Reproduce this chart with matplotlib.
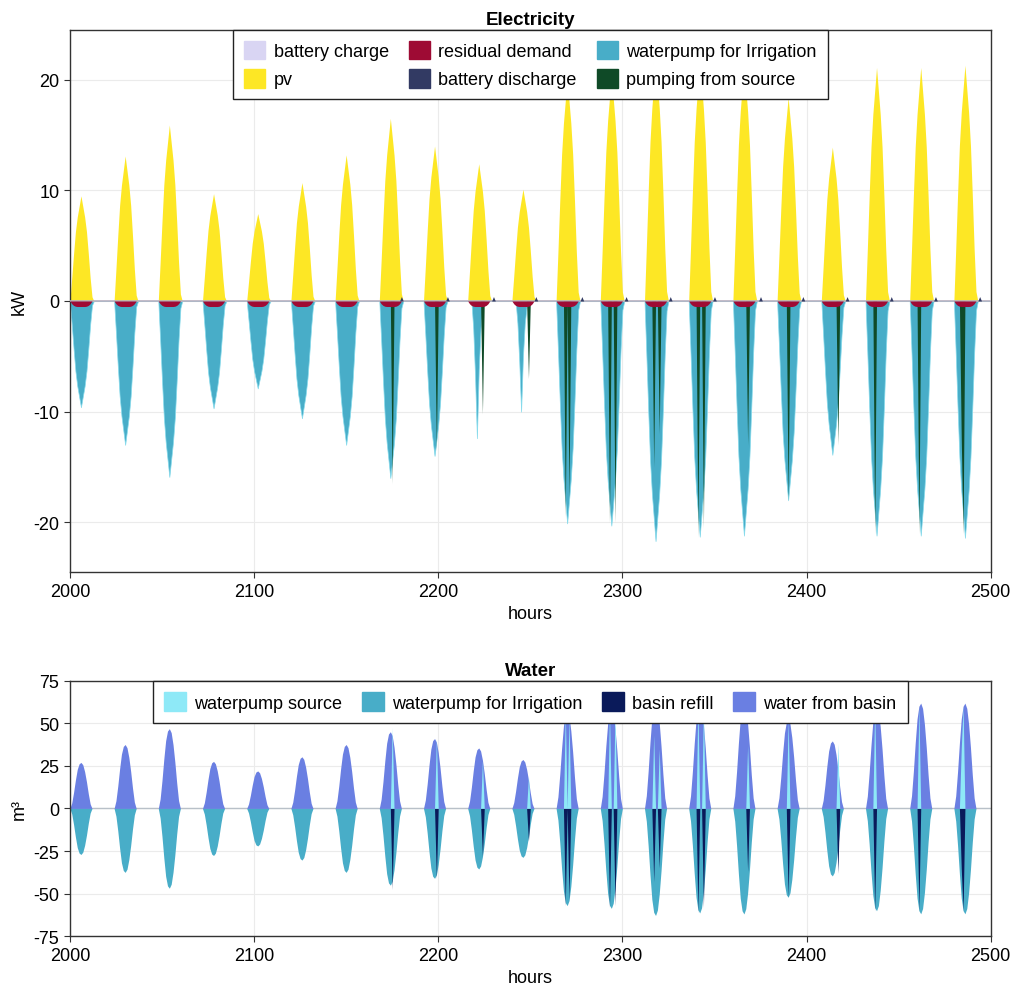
import numpy as np
import matplotlib
matplotlib.use("Agg")
import matplotlib.pyplot as plt
from matplotlib.patches import Patch

plt.rcParams['font.family'] = ['Liberation Sans', 'DejaVu Sans']
plt.rcParams['axes.unicode_minus'] = False

# ---- data ----
hours = np.arange(2000, 2501)
day_start = list(range(2000, 2481, 24))

# hourly shape of one day (offset 0..13 from day start)
sun_profile = [0, 0.22, 0.45, 0.66, 0.8, 0.9, 1.0, 0.9, 0.8, 0.66, 0.45, 0.22, 0.04, 0]
narrow_profile = [0, 0, 0, 0.2, 0.55, 1.0, 0.5, 0.2, 0.05, 0, 0, 0, 0, 0]
water_profile = [0, 0.12, 0.35, 0.62, 0.85, 0.97, 1.0, 0.95, 0.8, 0.58, 0.32, 0.1, 0, 0]
resid_profile = [0, 0.5, 0.8, 0.95, 1, 1, 1, 1, 1, 0.95, 0.8, 0.5, 0, 0]

# electricity (kW) daily peaks
pv_peak = [9.5, 13.1, 15.9, 9.7, 7.9, 10.7, 13.2, 16.5, 14.0, 12.4, 10.1,
           20.1, 20.4, 21.8, 21.7, 21.4, 18.4, 13.9, 21.1, 21.1, 21.3]
irr_peak = [9.6, 13.0, 15.9, 9.7, 7.9, 10.6, 13.0, 16.0, 14.0, 12.4, 10.0,
            20.1, 20.3, 21.7, 21.3, 21.2, 18.0, 13.9, 21.2, 21.2, 21.4]
irr_shape = ['full'] * 9 + ['narrow', 'narrow'] + ['full'] * 10
resid_peak = [0.5] * 21

# pumping from source spikes (hour, kW) and matching water (m3)
src_hour = [2175, 2199, 2224, 2249, 2269, 2271, 2293, 2296, 2317, 2320,
            2341, 2344, 2368, 2390, 2417, 2437, 2461, 2484, 2485]
src_kw = [16.5, 13.5, 10.2, 7.0, 19.5, 18.0, 20.0, 20.0, 15.0, 12.0,
          21.3, 20.5, 13.0, 18.1, 13.0, 21.0, 21.0, 12.4, 21.0]
src_m3 = [47.5, 41.0, 28.0, 19.0, 57.0, 54.0, 58.0, 57.0, 43.0, 35.0,
          61.0, 58.0, 37.0, 52.0, 38.0, 60.0, 60.0, 35.0, 60.0]

# battery discharge small blips (hour, kW)
bat_hour = [2180, 2205, 2230, 2253, 2278, 2302, 2326, 2350, 2375, 2398, 2422, 2446, 2470, 2494]
bat_kw = [0.4] * 14

# water (m3) daily peaks
w_peak = [27.0, 37.5, 46.8, 27.6, 22.0, 30.3, 37.5, 45.0, 41.0, 35.5, 28.7,
          57.0, 58.6, 62.8, 61.3, 61.9, 52.1, 39.6, 60.0, 61.8, 61.8]


def daily_series(peaks, profiles):
    out = np.zeros(len(hours))
    for start, peak, prof in zip(day_start, peaks, profiles):
        for i, v in enumerate(prof):
            idx = start + i - hours[0]
            if 0 <= idx < len(out):
                out[idx] += v * peak
    return out


def spike_series(hrs, vals):
    out = np.zeros(len(hours))
    for h, v in zip(hrs, vals):
        out[h - hours[0]] = v
    return out


pv = daily_series(pv_peak, [sun_profile] * 21)
irr = daily_series(irr_peak, [sun_profile if s == 'full' else narrow_profile for s in irr_shape])
resid = daily_series(resid_peak, [resid_profile] * 21)
src = spike_series(src_hour, src_kw)
bat = spike_series(bat_hour, bat_kw)
w_basin = daily_series(w_peak, [water_profile] * 21)
w_src = spike_series(src_hour, src_m3)

# colours
c_batc = '#d9d5f3'
c_pv = '#fde725'
c_res = '#9e0b34'
c_batd = '#323a63'
c_irr = '#48adc8'
c_src = '#0f4a27'
c_wsrc = '#8ee9f7'
c_refill = '#0a1a5a'
c_basin = '#6a7fe2'

fig = plt.figure(figsize=(10.13, 9.95), dpi=100)
ax1 = fig.add_axes([0.069, 0.424, 0.909, 0.545])
ax2 = fig.add_axes([0.069, 0.058, 0.909, 0.257])

leg_kw = dict(loc='upper center', bbox_to_anchor=(0.5, 1.0), borderaxespad=0,
              fancybox=False, fontsize=13, handlelength=1.2, handleheight=1.2,
              columnspacing=1.1, handletextpad=0.45)

# ---- electricity ----
ax1.fill_between(hours, 0, pv, color=c_pv, lw=0, zorder=2)
ax1.fill_between(hours, 0, -irr, facecolor=c_irr, edgecolor='#86dbec', lw=0.5, zorder=2)
ax1.fill_between(hours, 0, -src, color=c_src, lw=0, zorder=3)
ax1.fill_between(hours, 0, -resid, color=c_res, lw=0, zorder=4)
ax1.fill_between(hours, 0, bat, color=c_batd, lw=0, zorder=4)
ax1.axhline(0, color='#b8b0bf', lw=1.2, zorder=3.5)

ax1.set_xlim(2000, 2500)
ax1.set_ylim(-24.5, 24.5)
ax1.set_yticks([-20, -10, 0, 10, 20])
ax1.set_title('Electricity', fontsize=13.5, fontweight='bold', pad=4)
ax1.set_xlabel('hours', fontsize=13)
ax1.set_ylabel('kW', fontsize=13)

h1 = [Patch(color=c_batc), Patch(color=c_pv), Patch(color=c_res),
      Patch(color=c_batd), Patch(color=c_irr), Patch(color=c_src)]
l1 = ['battery charge', 'pv', 'residual demand', 'battery discharge',
      'waterpump for Irrigation', 'pumping from source']
ax1.legend(h1, l1, ncol=3, labelspacing=0.5, borderpad=0.6, **leg_kw)

# ---- water ----
ax2.fill_between(hours, 0, w_basin, color=c_basin, lw=0, zorder=2)
ax2.fill_between(hours, 0, -w_basin, color=c_irr, lw=0, zorder=2)
ax2.fill_between(hours, 0, w_src, color=c_wsrc, lw=0, zorder=3)
ax2.fill_between(hours, 0, -w_src, color=c_refill, lw=0, zorder=3)
ax2.axhline(0, color='#b8c0c8', lw=1.0, zorder=1.5)

ax2.set_xlim(2000, 2500)
ax2.set_ylim(-75, 75)
ax2.set_yticks([-75, -50, -25, 0, 25, 50, 75])
ax2.set_title('Water', fontsize=13.5, fontweight='bold', pad=4)
ax2.set_xlabel('hours', fontsize=13)
ax2.set_ylabel('m³', fontsize=13)

h2 = [Patch(color=c_wsrc), Patch(color=c_irr), Patch(color=c_refill), Patch(color=c_basin)]
l2 = ['waterpump source', 'waterpump for Irrigation', 'basin refill', 'water from basin']
ax2.legend(h2, l2, ncol=4, borderpad=0.65, **leg_kw)

for ax in (ax1, ax2):
    ax.set_xticks([2000, 2100, 2200, 2300, 2400, 2500])
    ax.grid(True, color='#ebebeb', lw=0.8, zorder=0)
    ax.set_axisbelow(True)
    ax.tick_params(labelsize=13, direction='out', length=4, color='#333333')
    for s in ax.spines.values():
        s.set_color('#333333')
        s.set_linewidth(1.0)
    leg = ax.get_legend()
    leg.get_frame().set_edgecolor('#222222')
    leg.get_frame().set_linewidth(1.0)
    leg.get_frame().set_alpha(1.0)

fig.savefig('out.png', dpi=100)
